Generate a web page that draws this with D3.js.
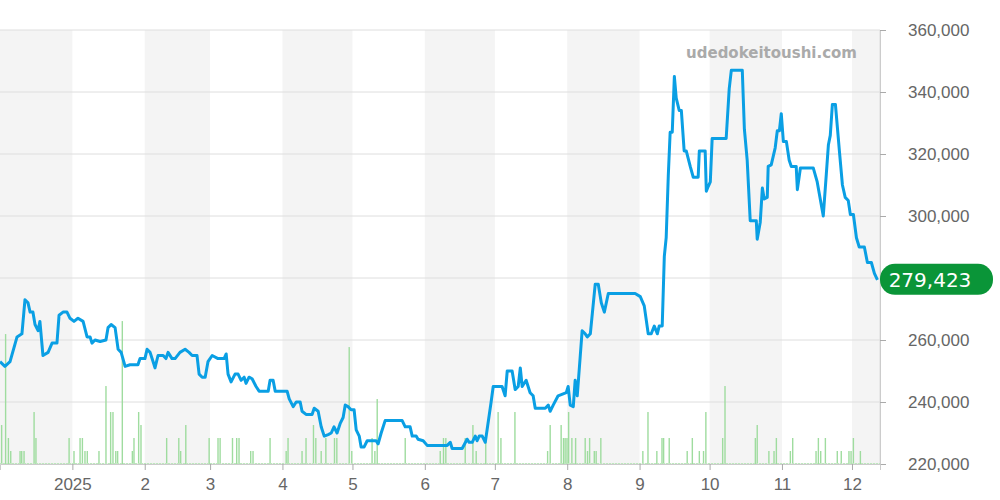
<!DOCTYPE html><html><head><meta charset="utf-8"><script src="https://cdn.jsdelivr.net/npm/d3@7"></script>
<style>body{margin:0;background:#fff}svg{display:block;font-family:"DejaVu Sans",sans-serif}</style></head><body><svg width="1000" height="500"></svg><script>
const startDate="2024-12-01", endDate="2025-12-13";
const priceDays=[0,2.1,4.3,7.3,9.4,10.7,12,12.9,14.1,15,16.3,17.1,18.4,20.6,22.3,24.4,25.3,27,28.7,30,31.7,33.4,35.6,37.3,38.6,39.4,40.7,42.9,45.4,46.3,47.6,49.3,50.6,51.9,53.6,55.7,59.1,60,62.1,63,64.3,65.6,66.4,67.7,69.9,71.1,72,73.7,75,77.1,79.3,81,82.3,84.4,85.3,86.6,87.9,89.1,90.9,93.4,96,96.9,97.7,99,100.7,102,103.3,104.6,105.4,106.7,108,109.7,111,114.9,115.7,117,117.9,123,123.9,125.6,126.9,128.6,129.4,131.1,133.7,134.6,136.3,137.6,138.9,140.6,141.9,143.1,144.4,145.7,147,147.9,149.1,150.4,151.7,152.6,153.9,154.7,156,157.3,161.1,162,163.3,165,172.3,173.6,175.7,176.6,178.3,179.1,181.3,183,191.6,192.9,193.7,198,200.1,201,202.3,203.6,204.4,205.3,206.6,207.9,210.4,211.3,215.1,216.4,217.3,219.4,220.7,222,222.9,223.7,225.4,227.1,228.4,229.3,233.6,234.9,235.7,237,239.1,242.6,243.4,244.3,245.6,246.4,247.3,248.6,249.4,250.7,251.6,252.9,255,256.3,257.6,258.9,260.6,269.1,272.1,274.3,276,277.7,279,280.3,281.6,282.4,283.7,284.6,285.4,286.3,287.1,288,288.9,289.7,291,291.9,293.1,294,295.7,297,299.1,299.6,302.1,302.6,303.4,304.3,305.1,311.1,312.4,313.3,318,318.9,320.1,321.4,324,324.4,325.7,326.6,327.4,328.7,329.1,330.4,332.1,333,333.9,334.7,335.6,336.9,338.1,339,341.1,341.6,342.9,348.4,350.1,351.4,352.7,354,354.9,355.7,356.6,357.9,359.6,360.9,362.1,363.4,364.3,365.6,366.9,368.1,370.3,371.6,373.3,374.6,375.9];
const priceValues=[253,251.5,253,261,262,273,272,269,269,265,263,266,255,256,259,259,268,269,269,267,266,267,266,261,261,259,260,259.5,260,264,265,264,257,256,251.5,252,252,254,254,257,256,253,251,255,255,254,256,254,254,256,257,256,255,255,249,248,248,253,255,254,254,255.5,249,246.5,249,249,247,248,246,248,247.5,245,243.5,243.5,247,247,243.5,243.5,241,238.5,240,240,237,236,236,238,237,232,229,229.5,230,232,230,233,235,239,238.5,237.5,237.5,231,229,225.5,225.5,227.5,227.5,226.5,230,234,234,232,232,229,229,228,227.5,226,226,227,225,225,228,227,227,229,227.5,229,229,227,240,245,245,242,250,250,244,245,251,245,247,243,242,238,238,239,237,239,242,243,245,239,238.5,247,242,255,263,262,261,262,278,278,272,269,275,275,275,274,271,262,262,264.5,262,264.5,264.5,287,293,313,327,327,345,338,334,334,321,321,316,312.5,312.5,321,321,308,309.5,311,325,325,341,347,347,328,318,298.5,298.5,292.5,298,309,305.5,306,316,316.5,322,327.5,327.5,333,324,324,318,316,316,308.5,315.5,315.5,311,305.5,300,313.5,323,326,336,336,321,310,306,305,300.5,300.5,293,290,290,285,285,281.5,279.423];
const volDays=[0.7,2.4,3.6,4.6,8.6,9.3,10.3,14.6,15.4,29.6,31.7,34.3,35.3,36.4,37.4,42.4,45.4,47.4,48.4,49.6,50.4,52.4,56.7,57.4,59.4,60.4,71.4,76.6,77.4,79.6,89.6,93.4,94.3,99.6,101.4,102.4,107.4,108.4,115.7,122.6,123.4,129.4,131.1,134.3,135.3,137.6,139.6,143.3,144.3,149.6,150.7,159.4,160.6,161.6,173.6,188.6,190,191,199.3,202.6,204,208.1,213.4,214.6,220.6,234.6,235.7,240.4,241.4,242.1,242.9,243.6,245,246.6,250.7,251.7,252.6,254.6,255.4,257.4,275.4,277.6,281.4,283.6,284.3,286.7,294.4,296.6,299.6,301.4,302.4,309.6,310.6,323.6,324.4,329.4,331.6,332.6,338.6,339.6,349.6,350.6,351.6,353.6,358.7,360.4,363.7,364.6,365.6,368.6];
const volValues=[3,10,2,1,1,1,1,4,2,2,1,2,2,1,1,1,6,4,4,1,1,11,1,2,4,3,2,2,1,3,2,2,2,2,2,2,1,1,2,1,2,1,2,3,2,1,2,2,2,9,1,2,1,5,2,1,2,2,2,3,1,2,4,2,4,1,3,3,2,2,2,4,2,2,2,1,2,1,1,2,1,4,1,2,2,2,1,2,1,1,4,2,6,2,3,1,1,2,1,2,1,2,1,2,1,1,1,1,2,1];
const yTicks=[220000,240000,260000,280000,300000,320000,340000,360000];
const monthTicks=["2025-01-01","2025-02-01","2025-03-01","2025-04-01","2025-05-01","2025-06-01","2025-07-01","2025-08-01","2025-09-01","2025-10-01","2025-11-01","2025-12-01"];
const monthLabels=["2025","2","3","4","5","6","7","8","9","10","11","12"];
const lastLabel="279,423", watermark="udedokeitoushi.com";

const svg=d3.select("svg");
const L=0,R=880,T=30,B=464;
const d0=new Date(startDate+"T00:00:00");
const toDate=d=>new Date(d0.getTime()+d*864e5);
const x=d3.scaleTime().domain([d0,new Date(endDate+"T00:00:00")]).range([L,R]);
const y=d3.scaleLinear().domain([220000,360000]).range([B,T]);
const yv=d3.scaleLinear().domain([0,33.4]).range([B,T]);
const mDates=monthTicks.map(s=>new Date(s+"T00:00:00"));
const bounds=[d0,...mDates,x.domain()[1]];
for(let i=0;i<bounds.length-1;i+=2){
  svg.append("rect").attr("x",x(bounds[i])).attr("y",T).attr("width",x(bounds[i+1])-x(bounds[i])).attr("height",B-T).attr("fill","#f4f4f4");
}
svg.selectAll(".g").data(yTicks).join("line").attr("x1",L).attr("x2",R).attr("y1",d=>y(d)).attr("y2",d=>y(d)).attr("stroke","#dedede");
svg.append("line").attr("x1",R).attr("x2",R).attr("y1",T).attr("y2",B).attr("stroke","#ddd");
svg.selectAll(".v").data(volDays).join("rect").attr("x",d=>x(toDate(d))-0.7).attr("width",1.4)
 .attr("y",(d,i)=>yv(volValues[i])).attr("height",(d,i)=>B-yv(volValues[i])).attr("fill","#9fdc9f");
svg.append("line").attr("x1",L).attr("x2",R).attr("y1",B-0.5).attr("y2",B-0.5).attr("stroke","#bde8bd").attr("stroke-dasharray","2,1");
const pts=priceDays.map((d,i)=>[toDate(d),priceValues[i]*1000]);
const lastV=pts[pts.length-1][1];
// hide the axis label the badge covers
const ya=svg.append("g").attr("transform",`translate(${R},0)`).call(d3.axisRight(y).tickValues(yTicks).tickFormat(d=>Math.abs(y(d)-y(lastV))<20?"":d3.format(",")(d)).tickSize(6).tickPadding(22));
const xa=svg.append("g").attr("transform",`translate(0,${B})`).call(d3.axisBottom(x).tickValues(mDates).tickFormat((d,i)=>monthLabels[i]).tickSize(6).tickPadding(8));
[ya,xa].forEach(a=>{a.select(".domain").attr("stroke","#ccc");a.selectAll("line").attr("stroke","#aaa");a.selectAll("text").attr("fill","#666").style("font-size","17px");});
ya.selectAll("text").attr("dy","0.35em");
svg.append("text").attr("x",857).attr("y",58).attr("text-anchor","end").attr("fill","#aaa").style("font-size","15px").style("font-weight","bold").text(watermark);
svg.append("path").datum(pts).attr("fill","none").attr("stroke","#0a9fe4").attr("stroke-width",3).attr("stroke-linejoin","round")
 .attr("d",d3.line().x(d=>x(d[0])).y(d=>y(d[1])));
const ly=y(lastV);
svg.append("rect").attr("x",R).attr("y",ly-16).attr("width",113).attr("height",31).attr("rx",15).attr("fill","#0a9538");
svg.append("text").attr("x",R+50).attr("y",ly+7).attr("text-anchor","middle").attr("fill","#fff").style("font-size","20px").text(lastLabel);
</script></body></html>
